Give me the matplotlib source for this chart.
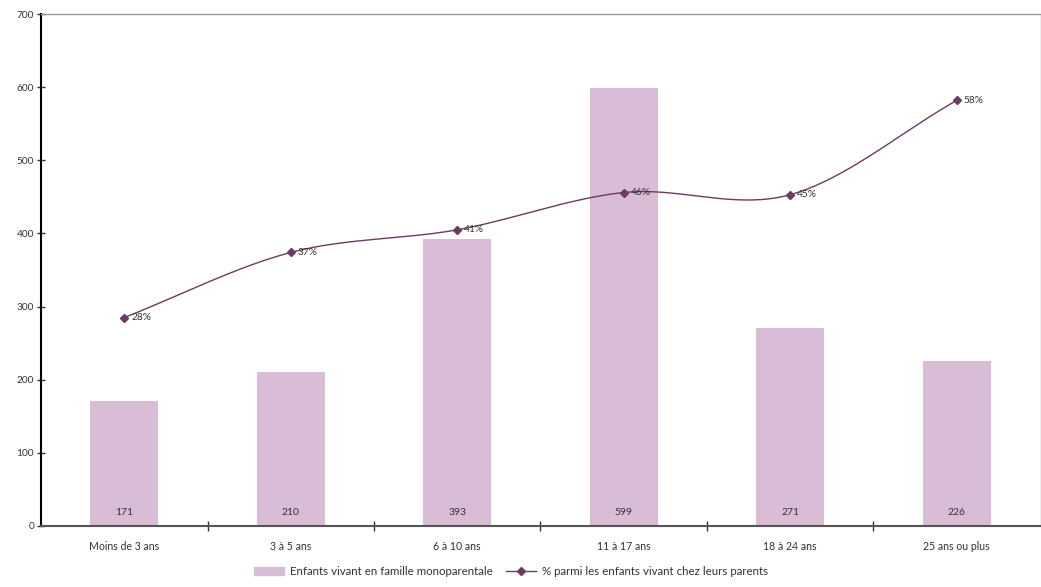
import numpy as np
import matplotlib.pyplot as plt
from matplotlib.lines import Line2D
from matplotlib.patches import Patch

# Data
categories = ['Moins de 3 ans', '3 à 5 ans', '6 à 10 ans', '11 à 17 ans', '18 à 24 ans', '25 ans ou plus']
enfants = [171, 210, 393, 599, 271, 226]
pct = [28.5, 37.4, 40.5, 45.6, 45.3, 58.2]
pct_labels = ['28%', '37%', '41%', '46%', '45%', '58%']

bar_color = '#d9bdd6'
line_color = '#6d3a62'
text_color = '#333333'

plt.rcParams['font.family'] = ['Lato', 'DejaVu Sans']


def catmull_rom(x, y, n=40):
    # smoothed line like a spreadsheet "smooth line"
    x = np.asarray(x, float)
    y = np.asarray(y, float)
    px = np.concatenate([[2*x[0]-x[1]], x, [2*x[-1]-x[-2]]])
    py = np.concatenate([[2*y[0]-y[1]], y, [2*y[-1]-y[-2]]])
    xs, ys = [], []
    t = np.linspace(0, 1, n)
    for i in range(1, len(px)-2):
        for p, out in ((px, xs), (py, ys)):
            p0, p1, p2, p3 = p[i-1], p[i], p[i+1], p[i+2]
            out.extend(0.5*((2*p1) + (-p0+p2)*t + (2*p0-5*p1+4*p2-p3)*t**2
                            + (-p0+3*p1-3*p2+p3)*t**3))
    return np.array(xs), np.array(ys)


fig = plt.figure(figsize=(10.41, 5.87), dpi=100)
ax = fig.add_axes([0.0394, 0.104, 0.9596, 0.872])
x = np.arange(len(categories))

ax.bar(x, enfants, width=0.41, color=bar_color, zorder=2)
for xi, v in zip(x, enfants):
    ax.annotate(str(v), (xi, 0), xytext=(0, 10), textcoords='offset points',
                ha='center', va='center', fontsize=7.5, color=text_color)

ax.set_xlim(-0.5, len(categories)-0.5)
ax.set_ylim(0, 700)
ax.set_yticks(range(0, 701, 100))
ax.tick_params(axis='y', direction='inout', length=6, width=1, labelsize=7.3,
               colors=text_color, pad=2)
ax.set_xticks(x)
ax.set_xticklabels(categories)
ax.set_xticks(np.arange(0.5, len(categories)-0.5), minor=True)
ax.tick_params(axis='x', which='major', length=0, labelsize=7.6, colors=text_color, pad=11)
ax.tick_params(axis='x', which='minor', direction='inout', length=7, width=1, color='#333333')
ax.spines['left'].set_linewidth(1.5)
ax.spines['left'].set_color('black')
ax.spines['bottom'].set_linewidth(1.5)
ax.spines['bottom'].set_color('#555555')
ax.spines['top'].set_color('#999999')
ax.spines['top'].set_linewidth(1)
ax.spines['right'].set_color('#eeeeee')

# percentage series on a hidden secondary scale (0-70 %)
ax2 = ax.twinx()
ax2.set_ylim(0, 70)
ax2.axis('off')
sx, sy = catmull_rom(x, pct)
ax2.plot(sx, sy, color=line_color, lw=1, zorder=3)
ax2.plot(x, pct, ls='none', marker='D', ms=4, color=line_color, zorder=4)
for xi, v, lab in zip(x, pct, pct_labels):
    ax2.annotate(lab, (xi, v), xytext=(5, 0), textcoords='offset points',
                 ha='left', va='center', fontsize=7.3, color=text_color)

handles = [Patch(color=bar_color),
           Line2D([], [], color=line_color, lw=1, marker='D', ms=4)]
labels = ['Enfants vivant en famille monoparentale',
          '% parmi les enfants vivant chez leurs parents']
fig.legend(handles, labels, loc='center', bbox_to_anchor=(0.491, 0.027), ncol=2,
           frameon=False, fontsize=8.3, handlelength=2.6, columnspacing=1.2,
           handletextpad=0.5, labelcolor=text_color)

fig.savefig('out.png', dpi=100)
